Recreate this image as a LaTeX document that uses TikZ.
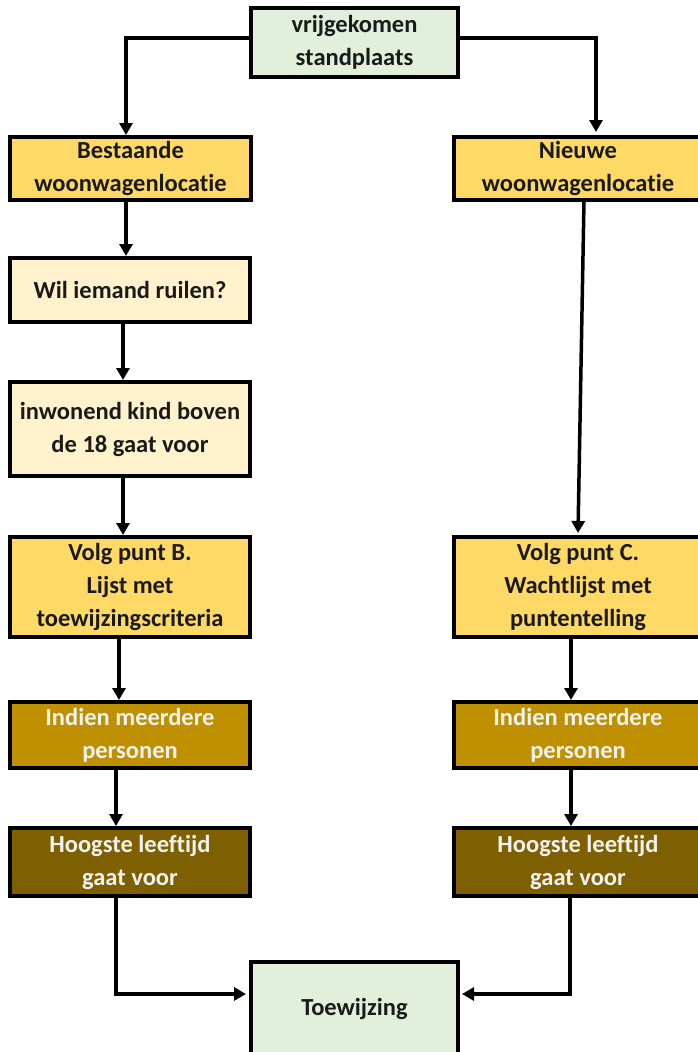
\documentclass[tikz,border=0pt]{standalone}
\usepackage{fontspec}
\setmainfont{Carlito}[Ligatures=NoCommon]
\usetikzlibrary{arrows.meta}
\definecolor{lgreen}{HTML}{E2EFDA}
\definecolor{gold}{HTML}{FFD966}
\definecolor{cream}{HTML}{FFF2CC}
\definecolor{ochre}{HTML}{BF9000}
\definecolor{dbrown}{HTML}{7F6000}
\definecolor{txt}{HTML}{1A1A1A}
\definecolor{wtxt}{HTML}{F2F2F2}
\tikzset{
  box/.style={draw=black, line width=3.5pt, rectangle, align=center, inner sep=0pt,
    font=\fontsize{24.5}{33}\selectfont\bfseries, text=txt},
  conn/.style={line width=3.5pt, -{Triangle[width=13pt,length=12pt]}},
  plain/.style={line width=3.5pt}
}
\begin{document}
\begin{tikzpicture}[x=1pt,y=-1pt]
\useasboundingbox (0,0) rectangle (698,1052);
\node[box, fill=lgreen, minimum width=207pt, minimum height=69pt] (top) at (354.5,42.5) {vrijgekomen\\standplaats};
\node[box, fill=gold, minimum width=241pt, minimum height=63pt] (best) at (130.5,168.5) {Bestaande\\woonwagenlocatie};
\node[box, fill=gold, minimum width=248pt, minimum height=63pt] (nieuw) at (578,168.5) {Nieuwe\\woonwagenlocatie};
\node[box, fill=cream, minimum width=240pt, minimum height=64pt] (wil) at (130,290) {Wil iemand ruilen?};
\node[box, fill=cream, minimum width=240pt, minimum height=94pt] (inw) at (130,429) {inwonend kind boven\\de 18 gaat voor};
\node[box, fill=gold, minimum width=240pt, minimum height=100pt] (volgB) at (130,587) {Volg punt B.\\Lijst met\\toewijzingscriteria};
\node[box, fill=gold, minimum width=248pt, minimum height=100pt] (volgC) at (578,587) {Volg punt C.\\Wachtlijst met\\puntentelling};
\node[box, fill=ochre, text=wtxt, minimum width=240pt, minimum height=66pt] (indL) at (130,735) {Indien meerdere\\personen};
\node[box, fill=ochre, text=wtxt, minimum width=248pt, minimum height=66pt] (indR) at (578,735) {Indien meerdere\\personen};
\node[box, fill=dbrown, text=wtxt, minimum width=240pt, minimum height=68pt] (hoogL) at (130,862) {Hoogste leeftijd\\gaat voor};
\node[box, fill=dbrown, text=wtxt, minimum width=248pt, minimum height=68pt] (hoogR) at (578,862) {Hoogste leeftijd\\gaat voor};
\node[box, fill=lgreen, minimum width=207pt, minimum height=94pt] (toe) at (354.5,1009) {Toewijzing};
% connectors
\draw[conn] (top.west |- 0,38) -| (126,135);
\draw[conn] (top.east |- 0,38) -| (596,132);
\draw[conn] (126,200) -- (126,256);
\draw[conn] (123,322) -- (123,380);
\draw[conn] (123,476) -- (123,535);
\draw[conn] (584,200) -- (578,533);
\draw[conn] (119,637) -- (119,700);
\draw[conn] (571,637) -- (571,700);
\draw[conn] (116,768) -- (116,826);
\draw[conn] (571,768) -- (571,826);
\draw[conn] (116,896) |- (246,994);
\draw[conn] (570,896) |- (462,994);
\end{tikzpicture}
\end{document}
